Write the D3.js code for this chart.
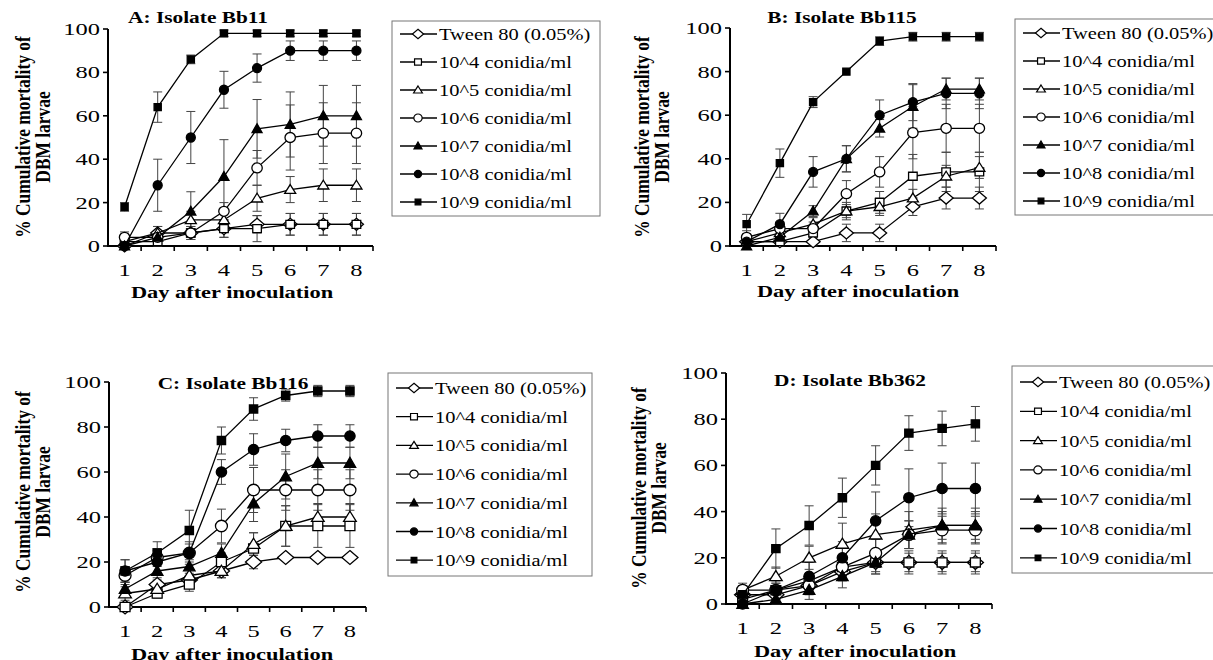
<!DOCTYPE html>
<meta charset="utf-8">
<style>
body { margin: 0; background: #fff; }
svg { display: block; }
text { font-family: "Liberation Serif", "Times New Roman", serif; fill: #000; }
.axis-line { stroke: #000; stroke-width: 2px; fill: none; }
.tick-line { stroke: #000; stroke-width: 1.6px; }
.line { fill: none; stroke: #000; stroke-width: 1.3px; }
.err { stroke: #444; stroke-width: 1px; fill: none; }
.legend-box { fill: #fff; stroke: #777; stroke-width: 1px; }
</style>
<body>
<svg width="1213" height="660"></svg>
<script src="https://d3js.org/d3.v7.min.js"></script>
<script>

var days = [1, 2, 3, 4, 5, 6, 7, 8];
var yTicks = [0, 20, 40, 60, 80, 100];
var seriesNames = ["Tween 80 (0.05%)", "10^4 conidia/ml", "10^5 conidia/ml", "10^6 conidia/ml",
                   "10^7 conidia/ml", "10^8 conidia/ml", "10^9 conidia/ml"];

// A: Bb11
var bb11Mean = [
  [0, 6, 6, 8, 10, 10, 10, 10],
  [2, 2, 6, 8, 8, 10, 10, 10],
  [2, 6, 12, 12, 22, 26, 28, 28],
  [4, 4, 6, 16, 36, 50, 52, 52],
  [0, 4, 16, 32, 54, 56, 60, 60],
  [0, 28, 50, 72, 82, 90, 90, 90],
  [18, 64, 86, 98, 98, 98, 98, 98]
];
var bb11Err = [
  [0, 3, 3, 4, 4, 5, 5, 5],
  [2, 2, 2, 4, 6, 5, 5, 5],
  [2, 3, 4, 4, 6, 6, 7.5, 7.5],
  [2.5, 3, 3, 4, 8, 15, 14, 14],
  [0, 2, 9, 17, 13.5, 15, 14, 14],
  [0, 12, 12, 8.5, 6.5, 4.5, 4.5, 4.5],
  [2, 7, 2, 1.5, 1.5, 1.5, 1.5, 1.5]
];

// B: Bb115
var bb115Mean = [
  [2, 2, 2, 6, 6, 18, 22, 22],
  [2, 2, 6, 16, 20, 32, 34, 34],
  [2, 6, 10, 16, 18, 22, 32, 36],
  [4, 8, 8, 24, 34, 52, 54, 54],
  [0, 4, 16, 40, 54, 64, 72, 72],
  [2, 10, 34, 40, 60, 66, 70, 70],
  [10, 38, 66, 80, 94, 96, 96, 96]
];
var bb115Err = [
  [1, 1, 2, 4, 4, 4, 5, 5],
  [2, 2, 2, 4, 5, 10, 9, 9],
  [2, 2, 3, 3, 4, 4, 5, 5],
  [3, 3, 3, 6, 7, 12, 11, 11],
  [1, 2, 2.5, 6, 4, 10, 5, 5],
  [2, 5, 7, 6, 7, 8.5, 7, 7],
  [4.5, 6.5, 2.5, 0, 2, 2, 2, 2]
];

// C: Bb116
var bb116Mean = [
  [0, 10, 12, 16, 20, 22, 22, 22],
  [0, 6, 10, 20, 26, 36, 36, 36],
  [6, 8, 14, 16, 28, 36, 40, 40],
  [14, 22, 24, 36, 52, 52, 52, 52],
  [8, 16, 18, 24, 46, 58, 64, 64],
  [16, 20, 24, 60, 70, 74, 76, 76],
  [16, 24, 34, 74, 88, 94, 96, 96]
];
var bb116Err = [
  [0, 2, 2, 3, 3, 1, 1, 1],
  [0, 2, 3, 4, 7, 9, 9.5, 9.5],
  [3, 2, 3, 3, 5, 9, 6, 6],
  [4, 4, 4, 7.5, 10, 9, 9, 9],
  [3, 3, 3, 4, 8, 10, 7, 7],
  [5, 5, 5, 5.5, 7, 5, 5, 5],
  [5, 5, 9, 6, 5, 2.5, 2.5, 2.5]
];

// D: Bb362
var bb362Mean = [
  [4, 4, 8, 14, 18, 18, 18, 18],
  [2, 6, 10, 16, 18, 18, 18, 18],
  [6, 12, 20, 26, 30, 32, 34, 34],
  [6, 6, 8, 16, 22, 30, 32, 32],
  [0, 2, 6, 12, 18, 30, 34, 34],
  [0, 6, 12, 20, 36, 46, 50, 50],
  [4, 24, 34, 46, 60, 74, 76, 78]
];
var bb362Err = [
  [2, 2, 3, 4, 4, 4, 4, 4],
  [2, 3, 3, 4, 5, 5, 5, 5],
  [2, 4, 5, 9, 9, 8, 7.5, 7.5],
  [3, 3, 4, 5, 6, 6, 6, 6],
  [1, 2, 4, 5, 5, 6, 6, 6],
  [2, 4, 6, 7, 12.5, 12.5, 11, 11],
  [4, 8.5, 8.5, 8.5, 8.5, 7.5, 7.5, 7.5]
];

// marker per series: shape, filled
var markers = [
  {shape: "diamond", w: 7, h: 6, fill: false},
  {shape: "square", w: 4.3, h: 4, fill: false},
  {shape: "triangle", w: 5.5, h: 5, fill: false},
  {shape: "circle", w: 5.2, h: 5, fill: false},
  {shape: "triangle", w: 5, h: 5, fill: true},
  {shape: "circle", w: 4.5, h: 4.5, fill: true},
  {shape: "square", w: 3.6, h: 3.5, fill: true}
];

var panels = [
  {title: "A: Isolate Bb11", mean: bb11Mean, err: bb11Err,
   left: 108, right: 373, y0: 246, y100: 29, titleX: 198, titleY: 23,
   xLabY: 276, xTitleX: 232, xTitleY: 298, yTitleX: 30, yTitleY: 137, ms: 1,
   legX: 392, legY: 21, legW: 208, legH: 195, legRow0: 34, legRow: 28},
  {title: "B: Isolate Bb115", mean: bb115Mean, err: bb115Err,
   left: 730, right: 996, y0: 246, y100: 28, titleX: 842, titleY: 23,
   xLabY: 276, xTitleX: 858, xTitleY: 297, yTitleX: 649, yTitleY: 137, ms: 1,
   legX: 1015, legY: 19, legW: 215, legH: 196, legRow0: 33, legRow: 28},
  {title: "C: Isolate Bb116", mean: bb116Mean, err: bb116Err,
   left: 109, right: 366, y0: 607, y100: 382, titleX: 233, titleY: 389,
   xLabY: 637, xTitleX: 232, xTitleY: 660, yTitleX: 30, yTitleY: 492, ms: 1.15,
   legX: 388, legY: 373, legW: 204, legH: 203, legRow0: 388, legRow: 28.7},
  {title: "D: Isolate Bb362", mean: bb362Mean, err: bb362Err,
   left: 726, right: 992, y0: 604, y100: 373, titleX: 850, titleY: 386,
   xLabY: 634, xTitleX: 855, xTitleY: 657, yTitleX: 646, yTitleY: 488, ms: 1.15,
   legX: 1012, legY: 366, legW: 215, legH: 207, legRow0: 382, legRow: 29.3}
];

var svg = d3.select("svg");

function markerPath(m, k) {
  var w = m.w * k, h = m.h * k;
  if (m.shape == "diamond")
    return "M0," + (-h) + "L" + w + ",0L0," + h + "L" + (-w) + ",0Z";
  if (m.shape == "square")
    return "M" + (-w) + "," + (-h) + "H" + w + "V" + h + "H" + (-w) + "Z";
  if (m.shape == "triangle")
    return "M0," + (-h) + "L" + w + "," + (h * 0.75) + "L" + (-w) + "," + (h * 0.75) + "Z";
  return "M" + w + ",0A" + w + "," + h + " 0 1,1 " + (-w) + ",0A" + w + "," + h + " 0 1,1 " + w + ",0Z";
}

// stretched text, the picture is wider than tall
function label(g, x, y, str, size, sx, anchor, bold) {
  return g.append("text")
    .attr("transform", "translate(" + x + "," + y + ") scale(" + sx + ",1)")
    .attr("text-anchor", anchor)
    .style("font-size", size + "px")
    .style("font-weight", bold ? "bold" : "normal")
    .text(str);
}

function drawPanel(p) {
  var g = svg.append("g");

  var x = d3.scaleBand().domain(days).range([p.left, p.right]);
  var y = d3.scaleLinear().domain([0, 100]).range([p.y0, p.y100]);
  var cx = function(d) { return x(d) + x.bandwidth() / 2; };

  // y axis
  g.append("line").attr("class", "axis-line")
    .attr("x1", p.left).attr("x2", p.left).attr("y1", y(0) + 1).attr("y2", y(100));
  yTicks.forEach(function(t) {
    g.append("line").attr("class", "tick-line")
      .attr("x1", p.left - 5).attr("x2", p.left).attr("y1", y(t)).attr("y2", y(t));
    label(g, p.left - 8, y(t) + 6, t, 17.5, 1.4, "end", false);
  });

  // x axis, ticks between categories
  g.append("line").attr("class", "axis-line")
    .attr("x1", p.left - 1).attr("x2", p.right).attr("y1", y(0)).attr("y2", y(0));
  days.forEach(function(d) {
    g.append("line").attr("class", "tick-line")
      .attr("x1", x(d) + x.bandwidth()).attr("x2", x(d) + x.bandwidth())
      .attr("y1", y(0)).attr("y2", y(0) + 5);
    label(g, cx(d), p.xLabY, d, 17.5, 1.4, "middle", false);
  });

  label(g, p.titleX, p.titleY, p.title, 17.5, 1.22, "middle", true);
  label(g, p.xTitleX, p.xTitleY, "Day after inoculation", 17.5, 1.28, "middle", true);

  g.append("text")
    .attr("transform", "translate(" + p.yTitleX + "," + p.yTitleY + ") scale(1.25,1) rotate(-90)")
    .attr("text-anchor", "middle")
    .style("font-size", "17.4px").style("font-weight", "bold")
    .text("% Cumulative mortality of");
  g.append("text")
    .attr("transform", "translate(" + (p.yTitleX + 20) + "," + p.yTitleY + ") scale(1.25,1) rotate(-90)")
    .attr("text-anchor", "middle")
    .style("font-size", "17.4px").style("font-weight", "bold")
    .text("DBM larvae");

  // error bars
  p.mean.forEach(function(s, i) {
    s.forEach(function(v, j) {
      var e = p.err[i][j];
      if (!e) return;
      var xx = cx(days[j]);
      g.append("path").attr("class", "err")
        .attr("d", "M" + xx + "," + y(v - e) + "V" + y(v + e) +
          "M" + (xx - 4.5) + "," + y(v + e) + "H" + (xx + 4.5) +
          "M" + (xx - 4.5) + "," + y(Math.max(0, v - e)) + "H" + (xx + 4.5));
    });
  });

  var line = d3.line()
    .x(function(v, j) { return cx(days[j]); })
    .y(function(v) { return y(v); });

  p.mean.forEach(function(s, i) {
    g.append("path").datum(s).attr("class", "line").attr("d", line);
    var m = markers[i];
    g.selectAll(null).data(s).enter().append("path")
      .attr("d", markerPath(m, p.ms))
      .attr("transform", function(v, j) { return "translate(" + cx(days[j]) + "," + y(v) + ")"; })
      .attr("fill", m.fill ? "#000" : "#fff")
      .attr("stroke", "#000").attr("stroke-width", 1.3);
  });

  // legend
  var lg = g.append("g");
  lg.append("rect").attr("class", "legend-box")
    .attr("x", p.legX).attr("y", p.legY).attr("width", p.legW).attr("height", p.legH);
  seriesNames.forEach(function(n, i) {
    var ly = p.legRow0 + i * p.legRow;
    lg.append("line").attr("x1", p.legX + 8).attr("x2", p.legX + 45)
      .attr("y1", ly).attr("y2", ly).attr("stroke", "#000").attr("stroke-width", 1.3);
    lg.append("path").attr("d", markerPath(markers[i], 0.8))
      .attr("transform", "translate(" + (p.legX + 26) + "," + ly + ")")
      .attr("fill", markers[i].fill ? "#000" : "#fff")
      .attr("stroke", "#000").attr("stroke-width", 1.2);
    label(lg, p.legX + 47, ly + 6, n, 17.5, 1.17, "start", false);
  });
}

panels.forEach(drawPanel);

</script>
</body>
